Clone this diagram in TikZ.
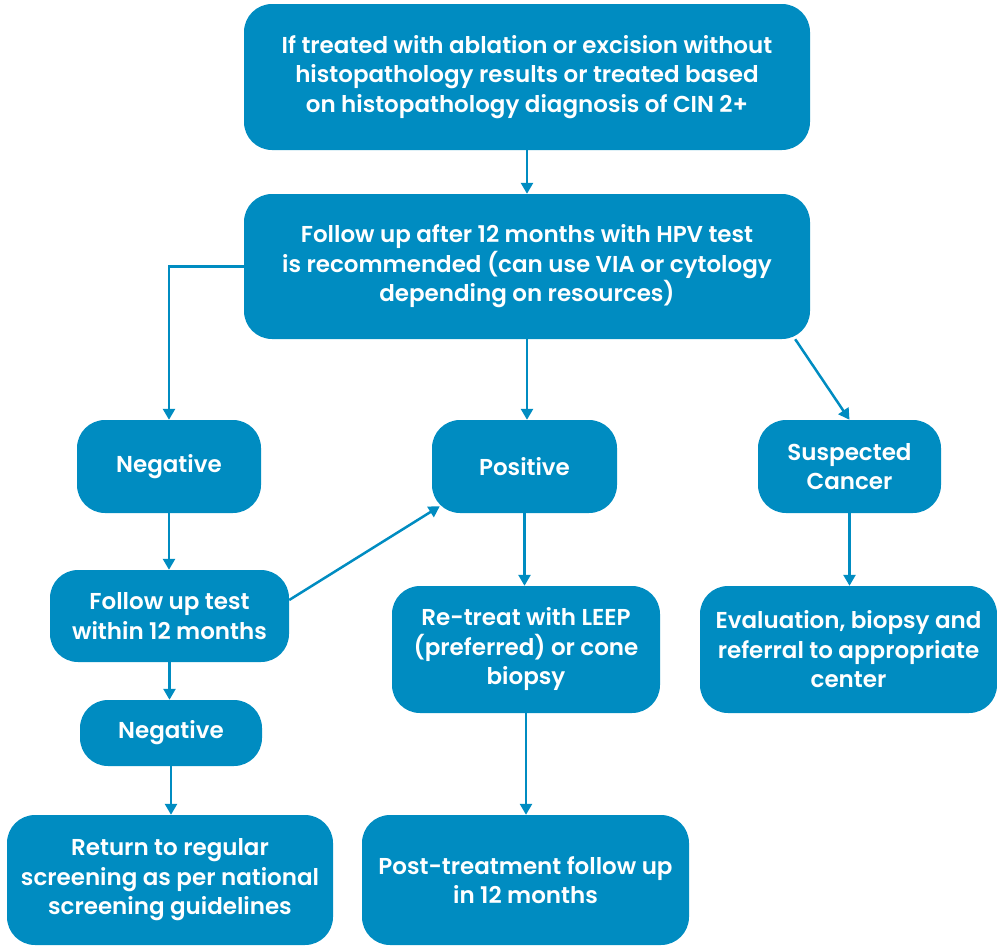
\documentclass[tikz,border=0pt]{standalone}
\usepackage{fontspec}
\setmainfont{Poppins}[BoldFont={Poppins SemiBold}]
\usetikzlibrary{arrows.meta}
\definecolor{flowblue}{HTML}{008CC1}
\begin{document}
\begin{tikzpicture}[x=1pt,y=-1pt,
  box/.style={fill=flowblue, rounded corners=28pt, text=white, align=center,
    inner sep=0pt, font=\bfseries\fontsize{23}{29.5}\selectfont},
  link/.style={draw=flowblue, line width=2.5pt,
    -{Triangle[width=12pt,length=11pt]}}]
\useasboundingbox (0,0) rectangle (997,946);
% boxes
\node[box, minimum width=566pt, minimum height=146pt] (top) at (527,77)
  {If treated with ablation or excision without\\histopathology results or treated based\\on histopathology diagnosis of CIN 2+};
\node[box, minimum width=566pt, minimum height=145pt] (fu) at (527,266.5)
  {Follow up after 12 months with HPV test\\is recommended (can use VIA or cytology\\depending on resources)};
\node[box, minimum width=184pt, minimum height=93pt] (neg1) at (169,466.5) {Negative};
\node[box, minimum width=185pt, minimum height=93pt] (pos) at (524.5,466.5) {Positive};
\node[box, minimum width=183pt, minimum height=93pt] (sus) at (849.5,466.5) {Suspected\\Cancer};
\node[box, minimum width=239pt, minimum height=92pt] (fut) at (169.5,616) {Follow up test\\within 12 months};
\node[box, minimum width=268pt, minimum height=127pt] (ret) at (526,649.5) {Re-treat with LEEP\\(preferred) or cone\\biopsy};
\node[box, minimum width=297pt, minimum height=127pt] (eval) at (848.5,649.5) {Evaluation, biopsy and\\referral to appropriate\\center};
\node[box, minimum width=182pt, minimum height=66pt] (neg2) at (171,733) {Negative};
\node[box, minimum width=326pt, minimum height=130pt] (retn) at (170,880) {Return to regular\\screening as per national\\screening guidelines};
\node[box, minimum width=327pt, minimum height=130pt] (post) at (525.5,880) {Post-treatment follow up\\in 12 months};
% connectors
\draw[link] (top.south) -- (fu.north);
\draw[link] (fu.west) -| (neg1.north);
\draw[link] (fu.south) -- (fu.south |- pos.north);
\draw[link] ([xshift=-15pt]fu.south east) -- (sus.north);
\draw[link] (neg1.south) -- (neg1.south |- fut.north);
\draw[link] ([yshift=16pt]fut.east) -- ([xshift=8pt,yshift=7pt]pos.south west);
\draw[link] (fut.south) -- (fut.south |- neg2.north);
\draw[link] (neg2.south) -- (neg2.south |- retn.north);
\draw[link] (pos.south) -- (pos.south |- ret.north);
\draw[link] (ret.south) -- (ret.south |- post.north);
\draw[link] (sus.south) -- (sus.south |- eval.north);
\end{tikzpicture}
\end{document}
